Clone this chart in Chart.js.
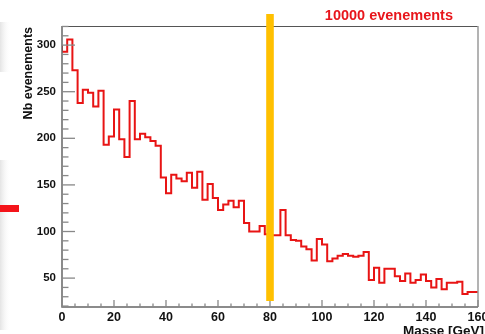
<!DOCTYPE html>
<html>
<head>
<meta charset="utf-8">
<title>Masse</title>
<script src="https://cdn.jsdelivr.net/npm/chart.js@4.4.1/dist/chart.umd.min.js"></script>
<style>
  html, body { margin: 0; padding: 0; background: #fff; }
  #wrap { width: 485px; height: 334px; }
</style>
</head>
<body>
<div id="wrap"><canvas id="myChart" width="485" height="334"></canvas></div>
<script>
// histogram: 80 bins of 2 GeV
var binWidth = 2;
var counts = [
  300, 293, 306, 273, 238, 252, 249, 234, 251, 193,
  202, 231, 199, 180, 240, 199, 205, 201, 197, 192,
  158, 141, 161, 157, 154, 163, 147, 164, 134, 151,
  136, 123, 129, 133, 126, 133, 109, 100, 100, 106,
  97, 96, 96, 123, 96, 91, 90, 84, 81, 69,
  92, 86, 68, 71, 74, 76, 74, 73, 74, 78,
  48, 61, 45, 60, 60, 52, 47, 55, 45, 48,
  54, 47, 40, 49, 38, 45, 45, 46, 33, 35
];
var xTickLabels = [0, 20, 40, 60, 80, 100, 120, 140, 160];
var yTickLabels = [50, 100, 150, 200, 250, 300];
var markerMass = 80;

var titleText = "10000 evenements";
var xTitle = "Masse [GeV]";
var yTitle = "Nb evenements";

var FONT = '"Liberation Sans", Arial, Helvetica, sans-serif';

// bin low edges + closing point at the upper edge
var points = [];
for (var i = 0; i < counts.length; i++) {
  points.push({ x: i * binWidth, y: counts[i] });
}
points.push({ x: counts.length * binWidth, y: counts[counts.length - 1] });

var rootDecor = {
  id: "rootDecor",
  beforeDraw: function(chart) {
    var ctx = chart.ctx;
    ctx.save();
    ctx.fillStyle = "#fff";
    ctx.fillRect(0, 0, chart.width, chart.height);
    // slide leftovers on the left edge
    var g = ctx.createLinearGradient(0, 0, 11, 0);
    g.addColorStop(0, "#e4e4e4");
    g.addColorStop(1, "rgba(255,255,255,0)");
    ctx.fillStyle = g;
    ctx.fillRect(0, 22, 11, 50);
    ctx.fillRect(0, 160, 11, 170);
    ctx.fillStyle = "#f4141a";
    ctx.fillRect(0, 205, 19, 7);
    ctx.restore();
  },
  afterDatasetsDraw: function(chart) {
    var ctx = chart.ctx;
    var a = chart.chartArea;
    var xs = chart.scales.x, ys = chart.scales.y;
    ctx.save();

    // frame
    ctx.lineWidth = 1;
    ctx.strokeStyle = "#555";
    ctx.beginPath();
    ctx.moveTo(a.left, a.top + 0.5);
    ctx.lineTo(a.right, a.top + 0.5);
    ctx.stroke();
    ctx.strokeStyle = "#9a9a9a";
    ctx.lineWidth = 1.5;
    ctx.beginPath();
    ctx.moveTo(a.right, a.top);
    ctx.lineTo(a.right, a.bottom);
    ctx.stroke();
    ctx.strokeStyle = "#666";
    ctx.beginPath();
    ctx.moveTo(a.left, a.top);
    ctx.lineTo(a.left, a.bottom);
    ctx.lineTo(a.right, a.bottom);
    ctx.stroke();

    // ticks inside the frame
    ctx.strokeStyle = "#888";
    ctx.lineWidth = 1.3;
    ys.ticks.forEach(function(t) {
      var py = ys.getPixelForValue(t.value);
      var len = yTickLabels.indexOf(t.value) >= 0 ? 13 : 6.5;
      ctx.beginPath();
      ctx.moveTo(a.left, py);
      ctx.lineTo(a.left + len, py);
      ctx.stroke();
    });
    xs.ticks.forEach(function(t) {
      var px = xs.getPixelForValue(t.value);
      var len = xTickLabels.indexOf(t.value) >= 0 ? 7 : 3.5;
      ctx.beginPath();
      ctx.moveTo(px, a.bottom);
      ctx.lineTo(px, a.bottom - len);
      ctx.stroke();
    });

    // marker at the W mass
    var mx = xs.getPixelForValue(markerMass);
    ctx.fillStyle = "#ffc000";
    ctx.fillRect(mx - 3.8, a.top - 12, 7.6, a.bottom - 6 - (a.top - 12));
    ctx.restore();
  },
  afterDraw: function(chart) {
    var ctx = chart.ctx;
    var a = chart.chartArea;
    ctx.save();
    ctx.fillStyle = "#e8161c";
    ctx.font = "bold 14.5px " + FONT;
    ctx.textAlign = "right";
    ctx.textBaseline = "alphabetic";
    ctx.fillText(titleText, a.right - 25, 19.5);

    ctx.fillStyle = "#111";
    ctx.font = "bold 13.5px " + FONT;
    ctx.textAlign = "right";
    ctx.fillText(xTitle, a.right + 6, 335);

    ctx.font = "bold 12.5px " + FONT;
    ctx.translate(29, a.top + 1);
    ctx.rotate(-Math.PI / 2);
    ctx.textAlign = "right";
    ctx.textBaseline = "middle";
    ctx.fillText(yTitle, 0, 0);
    ctx.restore();
  }
};

var ctx = document.getElementById("myChart");

var chart = new Chart(ctx, {
  type: "line",
  data: {
    datasets: [{
      label: "Masse",
      data: points,
      stepped: "after",
      borderColor: "#e81414",
      borderWidth: 2,
      pointRadius: 0,
      fill: false
    }]
  },
  options: {
    responsive: false,
    animation: false,
    layout: { padding: { top: 26, right: 7, left: 0, bottom: 0 } },
    plugins: {
      legend: { display: false },
      tooltip: { enabled: false }
    },
    scales: {
      x: {
        type: "linear",
        min: 0,
        max: 160,
        grid: { display: false, drawTicks: false },
        border: { display: false },
        afterBuildTicks: function(scale) {
          var t = [];
          for (var v = 0; v <= 160; v += 5) t.push({ value: v });
          scale.ticks = t;
        },
        afterFit: function(scale) {
          scale.height = 27;
          scale.paddingLeft = 0;
          scale.paddingRight = 0;
        },
        ticks: {
          autoSkip: false,
          maxRotation: 0,
          padding: 3,
          color: "#111",
          font: { family: FONT, size: 12.5, weight: "bold" },
          callback: function(v) {
            return xTickLabels.indexOf(v) >= 0 ? String(v) : "";
          }
        }
      },
      y: {
        min: 19,
        max: 320.5,
        grid: { display: false, drawTicks: false },
        border: { display: false },
        afterBuildTicks: function(scale) {
          var t = [];
          for (var v = 20; v <= 320; v += 10) t.push({ value: v });
          scale.ticks = t;
        },
        afterFit: function(scale) {
          scale.width = 62;
          scale.paddingTop = 0;
          scale.paddingBottom = 0;
        },
        ticks: {
          autoSkip: false,
          padding: 6,
          color: "#111",
          font: { family: FONT, size: 11.5, weight: "bold" },
          callback: function(v) {
            return yTickLabels.indexOf(v) >= 0 ? String(v) : "";
          }
        }
      }
    }
  },
  plugins: [rootDecor]
});
</script>
</body>
</html>
